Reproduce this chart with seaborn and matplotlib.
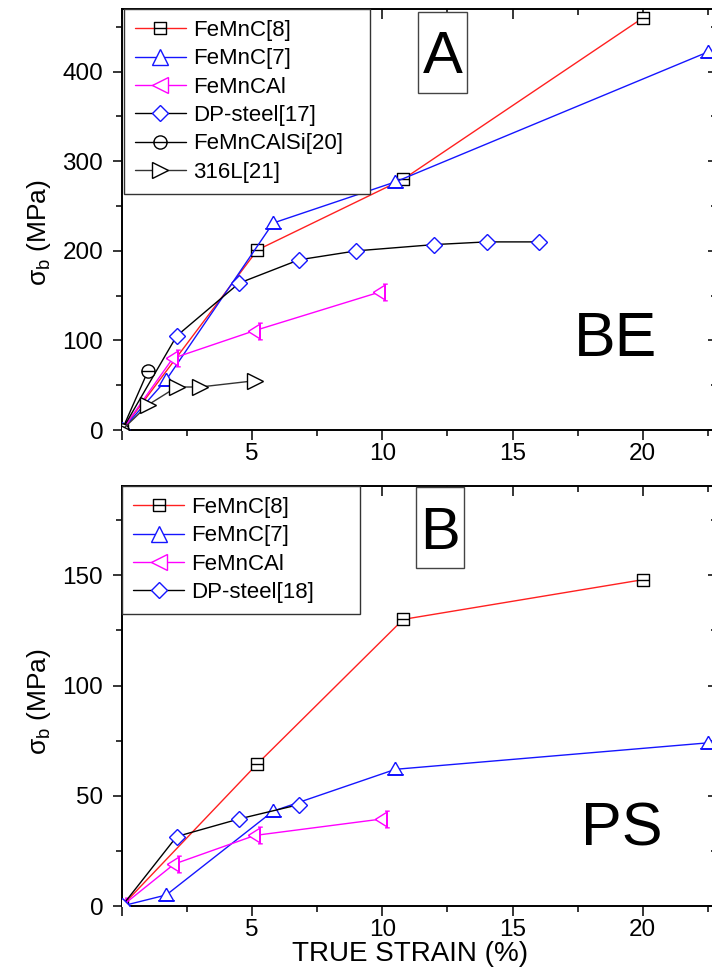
import numpy as np
import pandas as pd
import matplotlib
matplotlib.use("Agg")
import matplotlib.pyplot as plt
from matplotlib.path import Path
from matplotlib.patches import Rectangle
from matplotlib.ticker import MultipleLocator, FixedLocator
import seaborn as sns

# ---------------- data ----------------
# Panel A (BE)
a_femnc8_x = [0, 5.2, 10.8, 20.0]
a_femnc8_y = [0, 201, 280, 460]
a_femnc7_x = [0, 1.7, 5.8, 10.5, 22.5]
a_femnc7_y = [0, 56, 231, 277, 422]
a_femncal_x = [0, 1.95, 5.1, 9.9]
a_femncal_y = [0, 80, 111, 154]
a_dp17_x = [0, 2.1, 4.5, 6.8, 9.0, 12.0, 14.0, 16.0]
a_dp17_y = [0, 105, 164, 190, 200, 207, 210, 210]
a_femncalsi_x = [0, 1.0]
a_femncalsi_y = [0, 66]
a_316l_x = [0, 1.0, 2.1, 3.0, 5.1]
a_316l_y = [0, 28, 48, 48, 55]

# Panel B (PS)
b_femnc8_x = [0, 5.2, 10.8, 20.0]
b_femnc8_y = [0, 64.5, 130, 148]
b_femnc7_x = [0, 1.7, 5.8, 10.5, 22.5]
b_femnc7_y = [0, 5, 43, 62, 74]
b_femncal_x = [0, 2.0, 5.1, 10.0]
b_femncal_y = [0, 19, 32, 39.5]
b_dp18_x = [0, 2.1, 4.5, 6.8]
b_dp18_y = [0, 31.5, 39.5, 46]

labels_a = ["FeMnC[8]", "FeMnC[7]", "FeMnCAl", "DP-steel[17]", "FeMnCAlSi[20]", "316L[21]"]
labels_b = ["FeMnC[8]", "FeMnC[7]", "FeMnCAl", "DP-steel[18]"]
x_ticks = [5, 10, 15, 20]
ya_ticks = [0, 100, 200, 300, 400]
yb_ticks = [0, 50, 100, 150]

# ---------------- style ----------------
sns.set_style("ticks")
plt.rcParams["font.family"] = ["Liberation Sans", "DejaVu Sans"]
plt.rcParams["mathtext.fontset"] = "custom"
plt.rcParams["mathtext.rm"] = "Liberation Sans"
plt.rcParams["mathtext.it"] = "Liberation Sans"
for k in ["text.color", "axes.labelcolor", "xtick.color", "ytick.color",
          "axes.edgecolor"]:
    plt.rcParams[k] = "black"

# custom Origin-like markers
M, L = Path.MOVETO, Path.LINETO
sq_line = Path([(-1, -1), (1, -1), (1, 1), (-1, 1), (-1, -1), (-1, 0), (1, 0)],
               [M, L, L, L, L, M, L])
circ_line = Path.make_compound_path(Path.unit_circle(),
                                    Path([(-1, 0), (1, 0)], [M, L]))
tri_up = Path([(0, 1), (-1, -0.75), (1, -0.75), (0, 1), (-1.15, -0.75), (1.15, -0.75)],
              [M, L, L, L, M, L])
tri_left = Path([(-1, 0), (0.6, 1), (0.6, -1), (-1, 0),
                 (0.6, -1.15), (0.6, 1.15),
                 (0.35, 1.15), (1.0, 1.15), (0.35, -1.15), (1.0, -1.15)],
                [M, L, L, L, M, L, M, L, M, L])

RED, BLUE, MAG = "#ff2020", "#1515ff", "#ff00ff"

def series(ax, xs, ys, label, lc, marker, mec, ms):
    df = pd.DataFrame({"x": xs, "y": ys})
    sns.lineplot(data=df, x="x", y="y", ax=ax, estimator=None, sort=False,
                 errorbar=None, color=lc, lw=1.0, label=label,
                 marker=marker, markersize=ms, markeredgecolor=mec,
                 markerfacecolor="white", markeredgewidth=1.0, zorder=3)

fig = plt.figure(figsize=(7.12, 9.72), dpi=100)
W, H = 712.0, 972.0
left = 122 / W
width = 595 / W
axA = fig.add_axes([left, 1 - 430 / H, width, 421 / H])
axB = fig.add_axes([left, 1 - 906 / H, width, 420 / H])

# panel A
series(axA, a_femnc8_x, a_femnc8_y, labels_a[0], RED, sq_line, "black", 9)
series(axA, a_femnc7_x, a_femnc7_y, labels_a[1], BLUE, tri_up, BLUE, 12)
series(axA, a_femncal_x, a_femncal_y, labels_a[2], MAG, tri_left, MAG, 12)
series(axA, a_dp17_x, a_dp17_y, labels_a[3], "black", "D", BLUE, 7.8)
series(axA, a_femncalsi_x, a_femncalsi_y, labels_a[4], "black", circ_line, "black", 9.5)
series(axA, a_316l_x, a_316l_y, labels_a[5], "#333333", ">", "black", 12)

# panel B
series(axB, b_femnc8_x, b_femnc8_y, labels_b[0], RED, sq_line, "black", 9)
series(axB, b_femnc7_x, b_femnc7_y, labels_b[1], BLUE, tri_up, BLUE, 12)
series(axB, b_femncal_x, b_femncal_y, labels_b[2], MAG, tri_left, MAG, 12)
series(axB, b_dp18_x, b_dp18_y, labels_b[3], "black", "D", BLUE, 7.8)

for ax, ylim, yt, ymin in [(axA, (0, 470), ya_ticks, 50), (axB, (0, 190.5), yb_ticks, 25)]:
    ax.set_xlim(0, 22.85)
    ax.set_ylim(*ylim)
    ax.xaxis.set_major_locator(FixedLocator([0] + x_ticks))
    ax.set_xticklabels([""] + [str(t) for t in x_ticks])
    ax.xaxis.set_minor_locator(MultipleLocator(2.5))
    ax.yaxis.set_major_locator(FixedLocator(yt))
    ax.set_yticklabels([str(t) for t in yt])
    ax.yaxis.set_minor_locator(MultipleLocator(ymin))
    ax.tick_params(which="both", top=True, right=True, width=1.1, color="black",
                   direction="out")
    ax.tick_params(axis="x", which="major", length=7.5, labelsize=17.5, pad=2)
    ax.tick_params(axis="y", which="major", length=6.5, labelsize=17.5, pad=7)
    ax.tick_params(axis="x", which="minor", length=4.5)
    ax.tick_params(axis="y", which="minor", length=4)
    for side in ["top", "right", "left", "bottom"]:
        ax.spines[side].set_visible(True)
        ax.spines[side].set_linewidth(1.4)
        ax.spines[side].set_color("black")
    ax.set_ylabel(r"$\sigma_{\rm b}$ (MPa)", fontsize=19, labelpad=7)
    ax.set_xlabel("")

# inward mirrored ticks on top/right
for ax in (axA, axB):
    for t in ax.xaxis.get_major_ticks() + ax.xaxis.get_minor_ticks():
        t.tick2line.set_marker(3)
    for t in ax.yaxis.get_major_ticks() + ax.yaxis.get_minor_ticks():
        t.tick2line.set_marker(0)

axA.yaxis.label.set_y(0.468)
axB.yaxis.label.set_y(0.486)

axB.set_xlabel("TRUE STRAIN (%)", fontsize=20)
axB.xaxis.set_label_coords(0.484, -0.083)

legkw = dict(loc="upper left", borderaxespad=0, mode="expand",
             fontsize=16, frameon=True, fancybox=False, framealpha=1,
             edgecolor="#333333", handlelength=2.3, handletextpad=0.32,
             labelspacing=0.33, borderpad=0.5)
lgA = axA.legend(bbox_to_anchor=(0.003, 0.0, 0.413, 1.0), **legkw)
lgB = axB.legend(bbox_to_anchor=(0.0, 0.0, 0.40, 1.0), **legkw)
for lg in (lgA, lgB):
    lg.get_frame().set_linewidth(1.0)
    lg.set_zorder(5)
    hs = lg.legend_handles
    hs[1].set_marker("^")
    hs[2].set_marker("<")

# panel letters and labels
axA.add_patch(Rectangle((0.4975, 0.8005), 0.0824, 0.1924, transform=axA.transAxes,
                        fc="white", ec="#444444", lw=1.0, zorder=6))
axB.add_patch(Rectangle((0.494, 0.8048), 0.0807, 0.193, transform=axB.transAxes,
                        fc="white", ec="#444444", lw=1.0, zorder=6))
axA.text(0.539, 0.848, "A", transform=axA.transAxes, fontsize=43,
         ha="center", va="baseline", zorder=7)
axB.text(0.534, 0.850, "B", transform=axB.transAxes, fontsize=43,
         ha="center", va="baseline", zorder=7)
axA.text(0.829, 0.176, "BE", transform=axA.transAxes, fontsize=45,
         ha="center", va="baseline")
axB.text(0.840, 0.143, "PS", transform=axB.transAxes, fontsize=44,
         ha="center", va="baseline")

fig.savefig("out.png", dpi=100)
